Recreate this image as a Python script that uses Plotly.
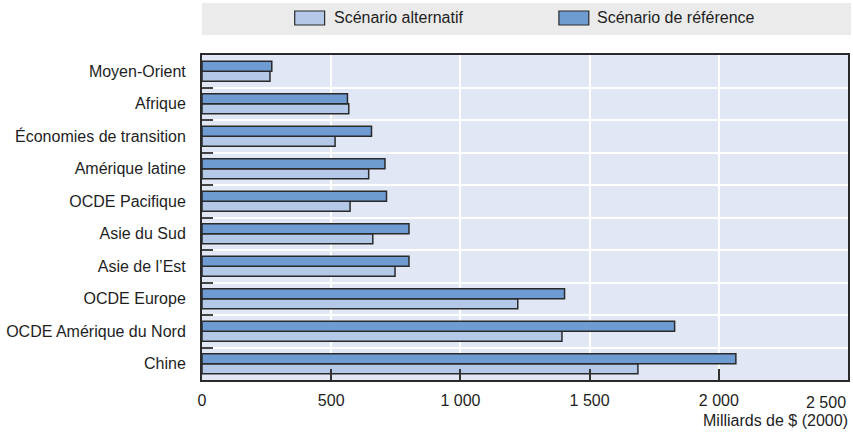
import plotly.graph_objects as go

# Regions, listed bottom to top as they appear on the category axis
regions = [
    "Chine",
    "OCDE Amérique du Nord",
    "OCDE Europe",
    "Asie de l’Est",
    "Asie du Sud",
    "OCDE Pacifique",
    "Amérique latine",
    "Économies de transition",
    "Afrique",
    "Moyen-Orient",
]

# Milliards de $ (2000)
scenario_reference = [2066, 1829, 1403, 801, 801, 714, 708, 656, 563, 270]
scenario_alternatif = [1687, 1393, 1222, 747, 661, 573, 645, 515, 568, 263]

x_tickvals = [0, 500, 1000, 1500, 2000, 2500]
x_ticktext = ["0", "500", "1 000", "1 500", "2 000", ""]

name_alt = "Scénario alternatif"
name_ref = "Scénario de référence"

COLOR_ALT = "#b4c8e8"
COLOR_REF = "#6f9bd3"
OUTLINE = "#2a2a2a"
TEXT = "#1e1e1e"
FONT = "Liberation Sans, Arial, sans-serif"
FS = 16

fig = go.Figure()
fig.add_trace(go.Bar(
    y=regions, x=scenario_alternatif, name=name_alt, orientation="h",
    marker=dict(color=COLOR_ALT, line=dict(color=OUTLINE, width=1.5)),
    showlegend=False,
))
fig.add_trace(go.Bar(
    y=regions, x=scenario_reference, name=name_ref, orientation="h",
    marker=dict(color=COLOR_REF, line=dict(color=OUTLINE, width=1.5)),
    showlegend=False,
))

# Plot area spans 648 x 325 px; helpers convert pixel offsets to paper units
W, H = 648.0, 325.0


def px(x):
    return (x - 202) / W


def py(y):
    return (380 - y) / H


shapes = [
    # grey band holding the legend
    dict(type="rect", xref="paper", yref="paper", x0=px(202), x1=px(853),
         y0=py(35), y1=py(3), fillcolor="#ebebeb", line=dict(width=0),
         layer="below"),
    # legend swatches
    dict(type="rect", xref="paper", yref="paper", x0=px(295), x1=px(325),
         y0=py(25), y1=py(11), fillcolor=COLOR_ALT,
         line=dict(color=OUTLINE, width=1.2)),
    dict(type="rect", xref="paper", yref="paper", x0=px(560), x1=px(590),
         y0=py(25), y1=py(11), fillcolor=COLOR_REF,
         line=dict(color=OUTLINE, width=1.2)),
]

annotations = [
    dict(text=name_alt, xref="paper", yref="paper", x=px(332), y=py(18),
         xanchor="left", yanchor="middle", showarrow=False,
         font=dict(size=FS, color=TEXT)),
    dict(text=name_ref, xref="paper", yref="paper", x=px(596), y=py(18),
         xanchor="left", yanchor="middle", showarrow=False,
         font=dict(size=FS, color=TEXT)),
    # last tick label kept inside the page edge
    dict(text="2 500", xref="x", yref="paper", x=2500, y=py(402),
         xanchor="right", yanchor="middle", showarrow=False,
         font=dict(size=FS, color=TEXT)),
    dict(text="Milliards de $ (2000)", xref="paper", yref="paper",
         x=px(852), y=py(421), xanchor="right", yanchor="middle",
         showarrow=False, font=dict(size=FS, color=TEXT)),
]

fig.update_layout(
    width=853, height=433,
    margin=dict(l=202, r=3, t=55, b=53),
    paper_bgcolor="white",
    plot_bgcolor="#e1e7f5",
    barmode="group",
    bargap=0.385,
    bargroupgap=0.0,
    font=dict(family=FONT, size=FS, color=TEXT),
    shapes=shapes,
    annotations=annotations,
)

fig.update_xaxes(
    range=[0, 2500],
    tickvals=x_tickvals, ticktext=x_ticktext,
    ticks="inside", ticklen=11, tickwidth=1.5, tickcolor="#333",
    showgrid=True, gridcolor="white", gridwidth=2,
    showline=True, linecolor=OUTLINE, linewidth=2, mirror=True,
    zeroline=False, ticklabelstandoff=5,
)
fig.update_yaxes(
    categoryorder="array", categoryarray=regions,
    tickson="boundaries",
    ticks="inside", ticklen=11, tickwidth=1.5, tickcolor="#444",
    showgrid=True, gridcolor="white", gridwidth=2,
    showline=True, linecolor=OUTLINE, linewidth=2, mirror=True,
    zeroline=False, ticklabelstandoff=11,
)

fig.write_html("out.html")
